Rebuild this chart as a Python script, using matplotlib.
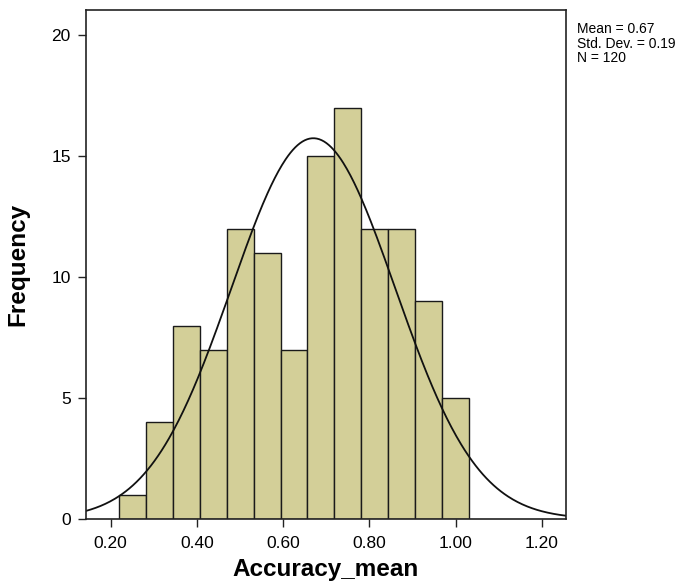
import numpy as np
import matplotlib
matplotlib.use("Agg")
import matplotlib.pyplot as plt

plt.rcParams['font.family'] = ['Liberation Sans', 'DejaVu Sans']

# Histogram bins (left edges) and counts
bin_start = 0.219
bin_width = 0.0625
counts = [1, 4, 8, 7, 12, 11, 7, 15, 17, 12, 12, 9, 5]

# Summary statistics for the normal curve
mean_val = 0.67
std_val = 0.19
n_val = 120

x_ticks = [0.20, 0.40, 0.60, 0.80, 1.00, 1.20]
y_ticks = [0, 5, 10, 15, 20]

fig = plt.figure(figsize=(6.91, 5.83), dpi=100)
ax = fig.add_axes([0.1245, 0.1098, 0.6942, 0.873])

lefts = bin_start + bin_width * np.arange(len(counts))
ax.bar(lefts, counts, width=bin_width, align='edge', color='#d3cf98',
       edgecolor='#1a1a1a', linewidth=1.0)

# Normal curve scaled to the histogram
xs = np.linspace(0.1427, 1.2557, 400)
ys = n_val * bin_width / (std_val * np.sqrt(2 * np.pi)) * np.exp(-0.5 * ((xs - mean_val) / std_val) ** 2)
ax.plot(xs, ys, color='#111111', linewidth=1.3)

ax.set_xlim(0.1427, 1.2557)
ax.set_ylim(0, 21.05)
ax.set_xticks(x_ticks)
ax.set_xticklabels([f'{v:.2f}' for v in x_ticks])
ax.set_yticks(y_ticks)
ax.tick_params(direction='out', length=6, width=1, labelsize=12.5, color='#222222')
ax.tick_params(axis='x', pad=6)
ax.tick_params(axis='y', pad=5)
for s in ax.spines.values():
    s.set_linewidth(1.2)
    s.set_color('#222222')

ax.set_xlabel('Accuracy_mean', fontsize=17.5, fontweight='bold', labelpad=5)
ax.set_ylabel('Frequency', fontsize=17.5, fontweight='bold', labelpad=16)

fig.text(0.835, 0.962, f'Mean = {mean_val:.2f}\nStd. Dev. = {std_val:.2f}\nN = {n_val}',
         fontsize=10, va='top', ha='left', linespacing=1.05)

fig.savefig('out.png', dpi=100)
